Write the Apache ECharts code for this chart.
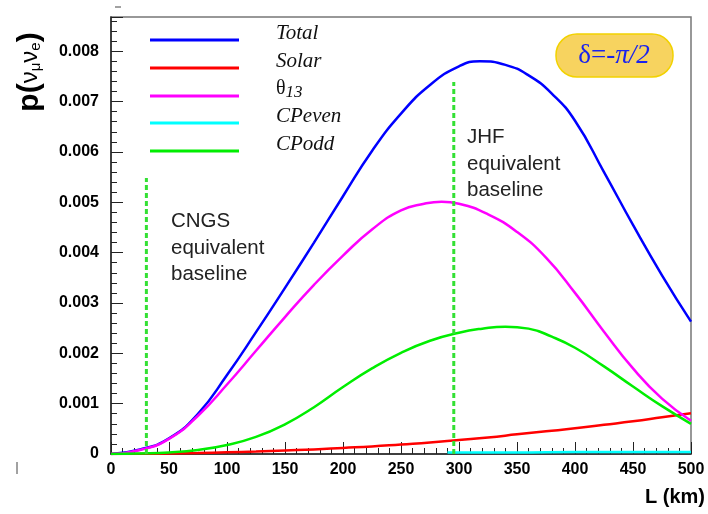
<!DOCTYPE html>
<html><head><meta charset="utf-8">
<script src="https://cdn.jsdelivr.net/npm/echarts@6/dist/echarts.min.js"></script>
<style>html,body{margin:0;padding:0;background:#fff}#c{width:708px;height:514px}</style>
</head><body><div id="c"></div>
<script>
// Baselines L (km) and probabilities
const totalL = [0, 25, 50, 75, 100, 125, 150, 175, 200, 225, 250, 275, 300, 318, 340, 360, 380, 400, 425, 450, 475, 500];
const total = [0, 0.00009, 0.00031, 0.00080, 0.00157, 0.00242, 0.00330, 0.00420, 0.00512, 0.00602, 0.00676, 0.00733, 0.00770, 0.00780, 0.00773, 0.00752, 0.00716, 0.00662, 0.00560, 0.00455, 0.00355, 0.00263];
const solarL = [0, 25, 50, 75, 100, 125, 150, 175, 200, 225, 250, 275, 300, 325, 350, 375, 400, 425, 450, 475, 500];
const solar = [0, 0.000003, 0.00001, 0.00002, 0.000035, 0.00005, 0.00007, 0.00009, 0.00012, 0.00015, 0.00019, 0.00023, 0.00028, 0.00033, 0.00039, 0.00045, 0.00051, 0.00058, 0.00065, 0.00073, 0.00081];
const theta13L = [0, 25, 50, 75, 100, 125, 150, 175, 200, 225, 250, 270, 285, 300, 325, 350, 375, 400, 425, 450, 475, 500];
const theta13 = [0, 0.00008, 0.00030, 0.00076, 0.00138, 0.00205, 0.00272, 0.00336, 0.00394, 0.00446, 0.00484, 0.00497, 0.00501, 0.00497, 0.00476, 0.00441, 0.00390, 0.00320, 0.00243, 0.00170, 0.00110, 0.00066];
const cpoddL = [0, 25, 50, 75, 100, 125, 150, 175, 200, 225, 250, 275, 300, 320, 340, 360, 380, 400, 425, 450, 475, 500];
const cpodd = [0, 0.00001, 0.00003, 0.00008, 0.00018, 0.00034, 0.00059, 0.00093, 0.00133, 0.00170, 0.00201, 0.00225, 0.00241, 0.00249, 0.00253, 0.00249, 0.00233, 0.00211, 0.00174, 0.00134, 0.00095, 0.00060];
const cpevenL = [290, 350, 400, 450, 500];
const cpeven = [0.00003, 0.00003, 0.00004, 0.00004, 0.00004];
// Reference baselines (dashed markers): [L, top value]
const cngsLine = [30.5, 0.00548];
const jhfLine = [295.5, 0.00739];
const yTicks = [0, 0.001, 0.002, 0.003, 0.004, 0.005, 0.006, 0.007, 0.008];
const names = ['Total', 'Solar', 'θ13', 'CPeven', 'CPodd'];
const colors = ['#0000ff', '#ff0000', '#ff00ff', '#00ffff', '#00ee00'];

const pairs = (xs, ys) => xs.map((x, i) => [x, ys[i]]);
const chart = echarts.init(document.getElementById('c'), null, {renderer: 'canvas'});

const axisCommon = {
  axisLine: {show: true, lineStyle: {color: '#222', width: 1.5}},
  axisTick: {show: true, inside: true, length: 12, lineStyle: {color: '#222', width: 1}},
  minorTick: {show: true, splitNumber: 5, length: 6, lineStyle: {color: '#222', width: 1}},
  splitLine: {show: false},
  axisLabel: {fontFamily: 'Liberation Sans', fontWeight: 'bold', fontSize: 16, color: '#000'}
};

const lineSeries = (name, data, color) => ({
  name, type: 'line', data, smooth: true, symbol: 'none',
  lineStyle: {color, width: 2.5}, itemStyle: {color}, z: 3
});

const legendItems = [];
names.forEach((n, i) => {
  const yLine = [40, 68, 96, 123, 151][i];
  legendItems.push({type: 'line', shape: {x1: 150, y1: yLine, x2: 239, y2: yLine},
    style: {stroke: colors[i], lineWidth: 3}});
  const isTheta = n === 'θ13';
  legendItems.push({type: 'text', x: 276, y: yLine - 7,
    style: {
      text: isTheta ? '{t|θ}{s|13}' : n,
      rich: isTheta ? {t: {fontFamily: 'Liberation Serif', fontSize: 20, fill: '#111'},
                       s: {fontFamily: 'Liberation Serif', fontStyle: 'italic', fontSize: 17, fill: '#111', padding: [8, 0, 0, 0]}} : undefined,
      fontFamily: 'Liberation Serif', fontStyle: 'italic', fontSize: 21, fill: '#111',
      align: 'left', verticalAlign: 'middle'
    }});
});

const option = {
  animation: false,
  backgroundColor: '#fff',
  grid: {left: 111, right: 17, top: 17, bottom: 60, show: true, borderColor: '#777', borderWidth: 1.5, backgroundColor: 'transparent'},
  xAxis: Object.assign({}, axisCommon, {
    type: 'value', min: 0, max: 500, interval: 50,
    axisLabel: Object.assign({}, axisCommon.axisLabel, {margin: 8})
  }),
  yAxis: Object.assign({}, axisCommon, {
    type: 'value', min: 0, max: 0.00868, interval: 0.001,
    axisLabel: Object.assign({}, axisCommon.axisLabel, {margin: 12, showMaxLabel: false,
      formatter: v => v === 0 ? '0' : (yTicks.some(t => Math.abs(t - v) < 1e-9) ? v.toFixed(3) : '')})
  }),
  series: [
    lineSeries(names[0], pairs(totalL, total), colors[0]),
    lineSeries(names[1], pairs(solarL, solar), colors[1]),
    lineSeries(names[2], pairs(theta13L, theta13), colors[2]),
    lineSeries(names[3], pairs(cpevenL, cpeven), colors[3]),
    lineSeries(names[4], pairs(cpoddL, cpodd), colors[4]),
    {name: 'CNGS baseline', type: 'line', symbol: 'none', z: 4,
     data: [[cngsLine[0], 0], [cngsLine[0], cngsLine[1]]],
     lineStyle: {color: '#33e033', width: 3, type: [5, 3]}},
    {name: 'JHF baseline', type: 'line', symbol: 'none', z: 4,
     data: [[jhfLine[0], 0], [jhfLine[0], jhfLine[1]]],
     lineStyle: {color: '#33e033', width: 3, type: [5, 3]}}
  ],
  graphic: [
    ...legendItems,
    {type: 'rect', shape: {x: 556, y: 34, width: 117, height: 43, r: 21},
     style: {fill: '#f7d35f', stroke: '#f2d200', lineWidth: 1.5}},
    {type: 'text', x: 614, y: 56, style: {
      text: '{a|δ=-}{b|π/2}', align: 'center', verticalAlign: 'middle',
      rich: {a: {fontFamily: 'Liberation Serif', fontSize: 27, fill: '#1a22ee'},
             b: {fontFamily: 'Liberation Serif', fontStyle: 'italic', fontSize: 27, fill: '#1a22ee'}}}},
    {type: 'text', x: 171, y: 208, style: {text: 'CNGS\nequivalent\nbaseline', fontFamily: 'Liberation Sans', fontSize: 20.5, lineHeight: 26.7, fill: '#222', align: 'left', verticalAlign: 'top'}},
    {type: 'text', x: 467, y: 124, style: {text: 'JHF\nequivalent\nbaseline', fontFamily: 'Liberation Sans', fontSize: 20.5, lineHeight: 26.7, fill: '#222', align: 'left', verticalAlign: 'top'}},
    {type: 'text', x: 705, y: 497, style: {text: 'L (km)', fontFamily: 'Liberation Sans', fontWeight: 'bold', fontSize: 20, fill: '#000', align: 'right', verticalAlign: 'middle'}},
    {type: 'text', x: 30, y: 72, rotation: Math.PI / 2, style: {
      text: '{a|p(}{b|ν}{s|μ}{b|ν}{s|e}{a|)}', align: 'center', verticalAlign: 'middle',
      rich: {a: {fontFamily: 'Liberation Sans', fontWeight: 'bold', fontSize: 30, fill: '#000'},
             b: {fontFamily: 'Liberation Sans', fontSize: 24, fill: '#000'},
             s: {fontFamily: 'Liberation Sans', fontSize: 15, fill: '#000', padding: [12, 0, 0, 0]}}}},
    {type: 'line', shape: {x1: 115, y1: 7, x2: 121, y2: 7}, style: {stroke: '#444', lineWidth: 1}},
    {type: 'line', shape: {x1: 17, y1: 462, x2: 17, y2: 474}, style: {stroke: '#444', lineWidth: 1}}
  ]
};
chart.setOption(option);
</script>
</body></html>
